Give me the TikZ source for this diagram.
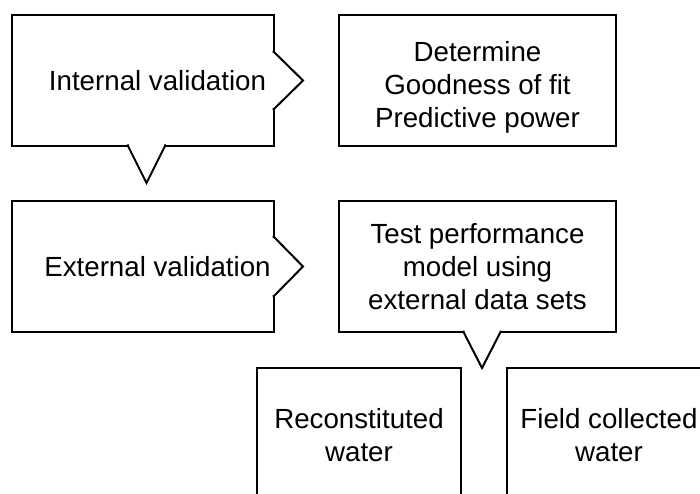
\documentclass[tikz,border=0pt]{standalone}
\usepackage{fontspec}
\setmainfont{Liberation Sans}
\usetikzlibrary{positioning, calc}
\tikzset{box/.style={draw, line width=2pt, outer sep=0pt, inner sep=0pt, minimum width=262pt, minimum height=131pt, align=center},
  wide box/.style={box, minimum width=277pt},
  low box/.style={box, minimum width=204pt, minimum height=134pt},
  pointer/.style={draw, line width=2pt, fill=white, line join=miter},}

\begin{document}
\begin{tikzpicture}[x=1pt, y=1pt, every node/.style={font=\fontsize{27.7}{33}\selectfont}]
        \clip (0,0) rectangle (700,493);
        % Nodes
        \node[box] (in) at (143,412.5) {\hspace*{29pt}Internal validation};
        \node[wide box] [right = 65pt of in, label={[yshift=-7pt, align=center]center:Determine\\Goodness of fit\\Predictive power}] (det) {};
        \node[box] [below = 55pt of in] (ext) {\hspace*{29pt}External validation};
        \node[wide box] [right = 65pt of ext] (test) {Test performance\\model using\\external data sets};
        \coordinate (tip) at ($(test.south)+(4.5,-36)$);
        \node[low box] [below left = 0pt and 21pt of tip] (rec) {Reconstituted\\water};
        \node[low box] [below right = 0pt and 25pt of tip] (fld) {Field collected\\water};
        % Pointers
        \path[pointer] ($(in.east)+(-1.5,28.5)$) -- ($(in.east)+(0,28.5)$) -- ($(in.east)+(29,0)$) -- ($(in.east)+(0,-28.5)$) -- ($(in.east)+(-1.5,-28.5)$);
        \path[pointer] ($(in.south)+(-15,1.5)$) -- ($(in.south)+(-15,0)$) -- ($(in.south)+(3.5,-37)$) -- ($(in.south)+(22,0)$) -- ($(in.south)+(22,1.5)$);
        \path[pointer] ($(ext.east)+(-1.5,29.5)$) -- ($(ext.east)+(0,29.5)$) -- ($(ext.east)+(29,0)$) -- ($(ext.east)+(0,-29.5)$) -- ($(ext.east)+(-1.5,-29.5)$);
        \path[pointer] ($(test.south)+(-14,1.5)$) -- ($(test.south)+(-14,0)$) -- (tip) -- ($(test.south)+(23,0)$) -- ($(test.south)+(23,1.5)$);
    \end{tikzpicture}
\end{document}
